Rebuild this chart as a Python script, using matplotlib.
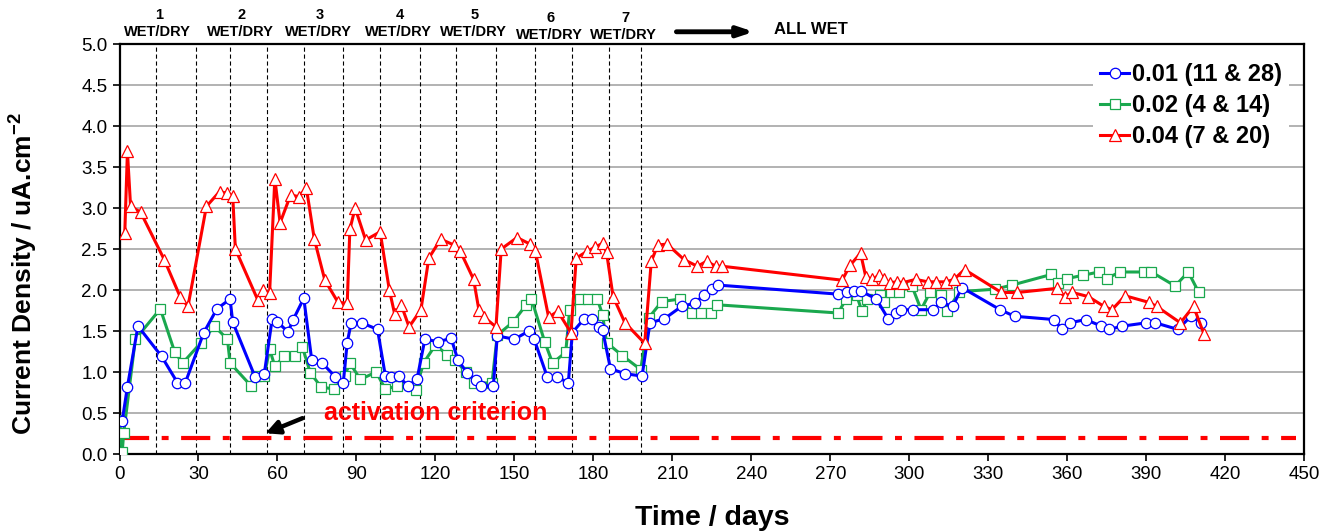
"""Current density vs time for three mixes, wet/dry cycles then all wet."""

import matplotlib

matplotlib.use("Agg")
import matplotlib.pyplot as plt

plt.rcParams["font.family"] = ["Liberation Sans", "DejaVu Sans"]
plt.rcParams["lines.scale_dashes"] = False
plt.rcParams["mathtext.fontset"] = "custom"
plt.rcParams["mathtext.rm"] = "Liberation Sans"
plt.rcParams["mathtext.bf"] = "Liberation Sans:bold"

BLUE = "#0000ff"
GREEN = "#1aa84e"
RED = "#ff0000"

# 0.01 (11 & 28)
blue_day = [1, 3, 7, 16, 22, 25, 32, 37, 42, 43, 51.5, 55, 58, 60, 64, 66, 70,
            73, 77, 82, 85, 86.5, 88, 92, 98, 101, 103, 106, 109.5, 113, 116,
            121, 126, 128.5, 132, 135.5, 137.5, 142, 143.5, 150, 155.5, 157.5,
            162.5, 166, 170.5, 172, 176.5, 179.5, 182, 183.5, 186.5, 192, 198.5,
            201.5, 207, 213.5, 218.5, 222, 225, 227.5, 273, 276.5, 279, 281.5,
            287.5, 292, 295, 297, 301.5, 309, 312, 316.5, 320, 334.5, 340, 355,
            358, 361, 367, 373, 376, 381, 390, 393.5, 402, 407, 411]
blue_cd = [0.40, 0.82, 1.56, 1.19, 0.87, 0.87, 1.48, 1.77, 1.89, 1.61, 0.94,
           0.98, 1.65, 1.61, 1.49, 1.64, 1.90, 1.15, 1.11, 0.94, 0.87, 1.36,
           1.60, 1.60, 1.52, 0.95, 0.94, 0.95, 0.83, 0.91, 1.40, 1.37, 1.41,
           1.15, 0.99, 0.90, 0.83, 0.83, 1.44, 1.40, 1.50, 1.40, 0.94, 0.94,
           0.87, 1.48, 1.65, 1.65, 1.55, 1.51, 1.04, 0.98, 0.95, 1.60, 1.65,
           1.80, 1.84, 1.94, 2.01, 2.06, 1.95, 1.98, 1.99, 1.99, 1.89, 1.65,
           1.72, 1.76, 1.76, 1.76, 1.85, 1.80, 2.03, 1.76, 1.68, 1.64, 1.52,
           1.60, 1.64, 1.56, 1.52, 1.56, 1.60, 1.60, 1.52, 1.68, 1.60]

# 0.02 (4 & 14)
green_day = [0, 1, 1.6, 6, 15.5, 21, 24, 31, 36, 41, 42, 50, 52, 55, 57, 59,
             62.5, 66.5, 69.5, 72.5, 76.5, 81.5, 85.5, 87.5, 91.5, 97.5, 101,
             105.5, 112.5, 115.5, 120, 124.5, 127.5, 131.5, 134.5, 141.5, 143.5,
             149.5, 154.5, 156.5, 161.5, 164.5, 169.5, 171, 175, 178, 181.5,
             183.5, 185, 191, 198, 201, 206, 213, 217.5, 221, 224.5, 227, 273,
             276, 280, 282, 284, 289, 290.5, 293, 296, 301, 304.5, 308, 312,
             314.5, 319, 332.5, 339, 354, 356.5, 360, 366, 372, 375, 380, 389,
             392, 401, 406, 410]
green_cd = [0.41, 0.02, 0.26, 1.40, 1.77, 1.24, 1.11, 1.36, 1.56, 1.40, 1.11,
            0.83, 0.95, 0.95, 1.28, 1.07, 1.19, 1.19, 1.30, 0.99, 0.82, 0.79,
            0.95, 1.11, 0.91, 1.00, 0.79, 0.83, 0.78, 1.11, 1.33, 1.21, 1.15,
            1.00, 0.86, 0.87, 1.45, 1.61, 1.82, 1.89, 1.37, 1.11, 1.24, 1.76,
            1.89, 1.89, 1.89, 1.70, 1.36, 1.20, 1.03, 1.66, 1.86, 1.89, 1.72,
            1.72, 1.72, 1.82, 1.72, 1.89, 1.94, 1.74, 1.89, 1.94, 1.86, 1.98,
            1.98, 2.05, 1.76, 1.98, 1.94, 1.74, 1.98, 2.01, 2.06, 2.19, 2.09,
            2.14, 2.18, 2.22, 2.14, 2.22, 2.22, 2.22, 2.05, 2.22, 1.97]

# 0.04 (7 & 20)
red_day = [2, 3, 4.2, 8, 17, 23, 26, 33, 38, 41, 43, 44, 52.5, 54.5, 57, 59,
           61, 65, 68, 71, 74, 78, 83, 86.5, 87.5, 89.5, 93.5, 99, 102.5, 104.5,
           107, 110, 114.5, 117.5, 122, 127, 129.5, 134.5, 136.5, 138.5, 143,
           145, 151, 156, 158, 163, 166.5, 171.5, 173.5, 177.5, 180.5, 183.5,
           185, 187.5, 192, 199.5, 202, 204.5, 208, 214.5, 219.5, 223, 226.5,
           229, 274.5, 277.5, 281.5, 283.5, 286, 288.5, 290.5, 292.5, 295.5,
           297.5, 302.5, 307, 310, 314, 317, 321, 335, 341, 356, 359, 362, 368,
           374, 377, 382, 391, 394, 403, 408, 412]
red_cd = [2.70, 3.69, 3.02, 2.95, 2.37, 1.92, 1.80, 3.02, 3.20, 3.18, 3.15,
          2.50, 1.88, 2.00, 1.96, 3.36, 2.82, 3.16, 3.14, 3.24, 2.62, 2.12,
          1.85, 1.84, 2.74, 3.00, 2.61, 2.71, 2.00, 1.71, 1.82, 1.55, 1.76,
          2.39, 2.62, 2.55, 2.47, 2.13, 1.76, 1.67, 1.55, 2.50, 2.64, 2.56,
          2.47, 1.67, 1.74, 1.48, 2.39, 2.47, 2.52, 2.57, 2.46, 1.92, 1.60,
          1.35, 2.35, 2.55, 2.56, 2.37, 2.29, 2.35, 2.29, 2.29, 2.12, 2.30,
          2.45, 2.16, 2.13, 2.18, 2.13, 2.09, 2.10, 2.09, 2.13, 2.10, 2.10,
          2.10, 2.13, 2.25, 1.97, 1.97, 2.02, 1.92, 1.97, 1.92, 1.80, 1.76,
          1.93, 1.85, 1.80, 1.60, 1.80, 1.46]

# wet/dry cycle boundaries (days)
cycle_days = [14, 29, 42, 56, 70, 85, 99, 114, 128, 143, 158, 172, 186, 198]
cycle_labels = ["1", "2", "3", "4", "5", "6", "7"]
cycle_label_day = [14.3, 45.9, 75.6, 106, 134.3, 163.2, 191.4]

activation_level = 0.2
activation_span = [0, 447]

fig = plt.figure(figsize=(13.37, 5.31), dpi=100)
ax = fig.add_axes([0.0894, 0.145, 0.886, 0.772])

ax.set_axisbelow(True)
ax.grid(True, axis="y", color="#a6a6a6", lw=1.2)

for d in cycle_days:
    ax.axvline(d, color="black", lw=0.8, ls=(0, (3, 2)), zorder=1)

ax.plot(activation_span, [activation_level] * 2, color=RED, lw=3,
        dashes=[21, 9, 5, 9], zorder=2)

ax.plot(blue_day, blue_cd, color=BLUE, lw=2.2, marker="o", ms=7.5,
        mfc="white", mec=BLUE, mew=0.9, label="0.01 (11 & 28)", zorder=4)
ax.plot(green_day, green_cd, color=GREEN, lw=2.2, marker="s", ms=7.5,
        mfc="white", mec=GREEN, mew=0.9, label="0.02 (4 & 14)", zorder=3)
ax.plot(red_day, red_cd, color=RED, lw=2.2, marker="^", ms=8,
        mfc="white", mec=RED, mew=0.9, label="0.04 (7 & 20)", zorder=5)

ax.set_xlim(0, 450)
ax.set_ylim(0, 5)
ax.set_xticks(range(0, 451, 30))
ax.set_yticks([i * 0.5 for i in range(11)])
ax.set_yticklabels([f"{i * 0.5:.1f}" for i in range(11)])
ax.tick_params(direction="out", length=5, width=1.2, labelsize=13.5,
               top=False, right=False)
for s in ax.spines.values():
    s.set_linewidth(1.6)

ax.set_xlabel("Time / days", fontsize=20.5, fontweight="bold", labelpad=16)
ax.set_ylabel("Current Density / uA.cm$^{\\mathbf{-2}}$", fontsize=19,
              fontweight="bold")
ax.yaxis.set_label_coords(-0.068, 0.44)

# activation criterion note
ax.text(120, 0.5, "activation criterion", color=RED, fontsize=18,
        fontweight="bold", ha="center", va="center")
ax.annotate("", xy=(54.5, 0.24), xytext=(70.5, 0.45),
            arrowprops=dict(arrowstyle="-|>,head_width=0.4,head_length=0.8",
                            color="black", lw=3.2))

# cycle labels above the plot
trans = ax.get_xaxis_transform()
narrow = ["Liberation Sans Narrow", "Liberation Sans", "DejaVu Sans"]
for lab, d in zip(cycle_labels, cycle_label_day):
    low = lab in ("6", "7")
    ax.text(d + 0.6, 1.072 if not low else 1.063, lab, transform=trans,
            ha="center", va="center", fontsize=10.5, fontweight="bold",
            family=narrow, clip_on=False)
    ax.text(d, 1.03 if not low else 1.022, "WET/DRY", transform=trans,
            ha="center", va="center", fontsize=10.5, fontweight="bold",
            family=narrow, clip_on=False)
ax.annotate("", xy=(242, 1.03), xytext=(210.5, 1.03), xycoords=trans,
            textcoords=trans,
            arrowprops=dict(arrowstyle="-|>,head_width=0.3,head_length=0.9",
                            color="black", lw=3.5))
ax.text(262.5, 1.035, "ALL WET", transform=trans, ha="center", va="center",
        fontsize=12, fontweight="bold", family=narrow, clip_on=False)

leg = ax.legend(loc="upper right", bbox_to_anchor=(0.997, 1.0),
                prop={"size": 17, "weight": "bold"}, handlelength=1.25,
                handletextpad=0.1, labelspacing=0.35, borderpad=0.3,
                frameon=True, fancybox=False)
leg.get_frame().set_linewidth(0)
leg.get_frame().set_alpha(1)

fig.savefig("out.png", dpi=100)
plt.close(fig)
